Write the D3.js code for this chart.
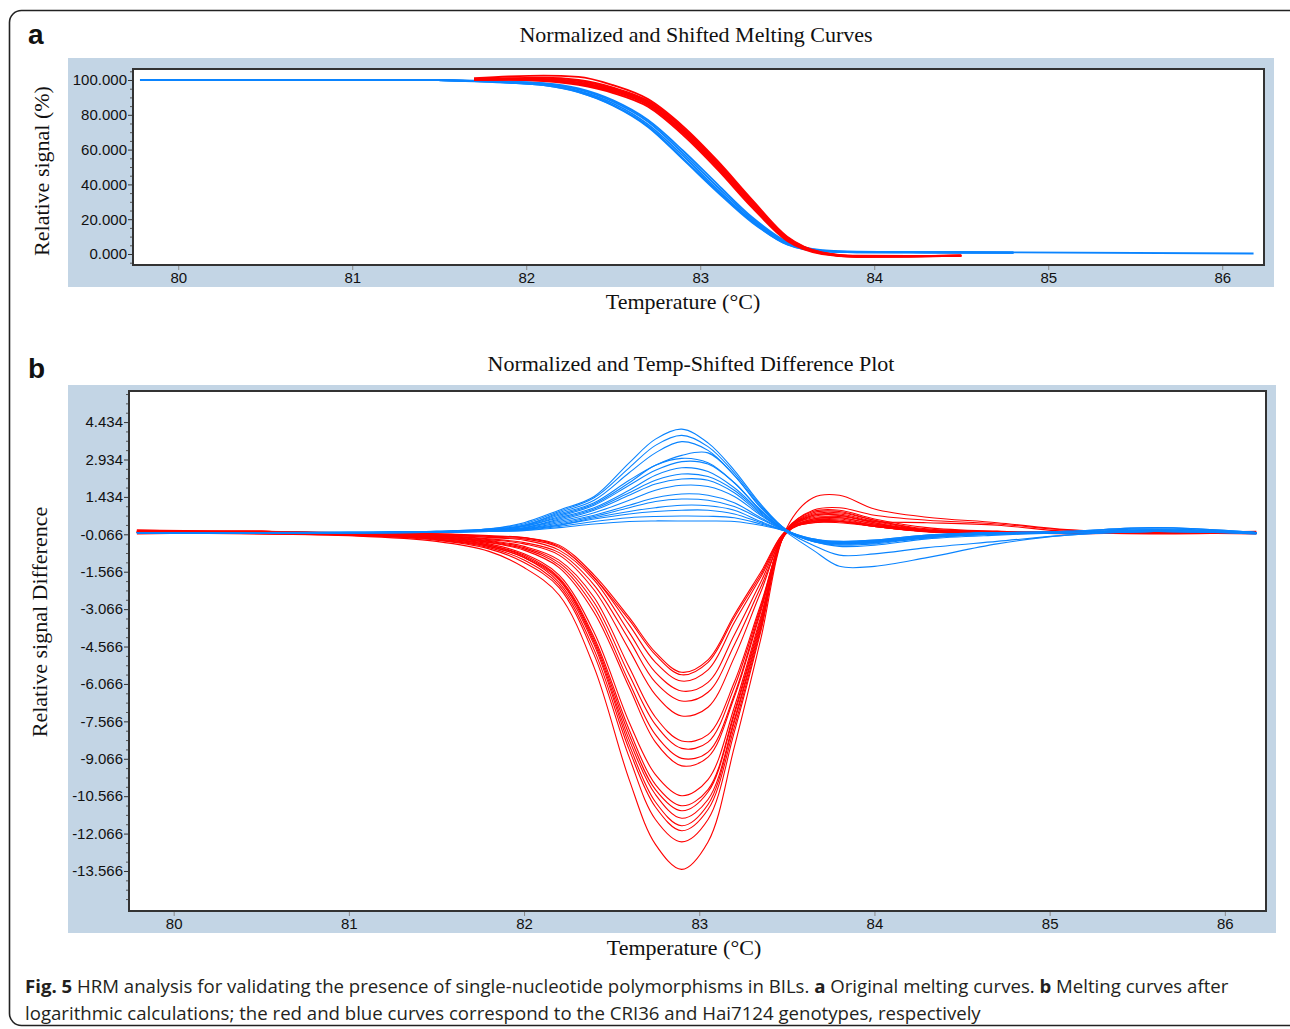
<!DOCTYPE html>
<html>
<head>
<meta charset="utf-8">
<script src="https://cdn.jsdelivr.net/npm/d3@7"></script>
<style>
    html, body { margin: 0; padding: 0; background: #fff; }
    svg { display: block; }
    .tick text { font-family: "Liberation Sans", Arial, sans-serif; font-size: 15px; fill: #111; }
</style>
</head>
<body>
<svg id="fig" width="1290" height="1029"></svg>
<script>
// ---- panel a: normalized melting curves (temperature grid + curves, null = no data)
const meltTemps = [79.78, 81.5, 81.7, 81.9, 82.1, 82.3, 82.5, 82.7, 82.9, 83.1, 83.3, 83.5, 83.7, 83.9, 84.2, 84.5, 84.8, 86.18];

const blueMelt = [
    [100, 100, 99.5, 98.9, 97.9, 94.6, 87.5, 76, 58, 38.5, 20, 6.5, 2.0, 1.2, 1.1, 1.0, 0.9, 0.3],
    [null, 100, 99.4, 98.6, 97.3, 93.8, 86.5, 74.5, 56.5, 37, 19, 6, 1.8, 1.1, 1.0, 0.9, 0.8, null],
    [null, 99.8, 99.2, 98.4, 97.0, 93.2, 85.5, 73.5, 55, 36, 18.5, 5.5, 1.6, 1.0, 0.9, 0.8, 0.7, null],
    [null, 100, 99.6, 99.1, 98.2, 95.2, 88.3, 77, 59.5, 40, 21, 7, 2.2, 1.3, 1.1, 1.0, 0.9, null],
    [null, 99.9, 99.3, 98.5, 97.0, 93.0, 85.2, 73, 54.5, 35.5, 18, 5.5, 1.5, 1.0, 0.9, 0.8, 0.8, null],
];

const redMelt = [
    [null, null, 100.3, 100.6, 100.2, 98.6, 94.3, 86.8, 71, 51, 29, 9, 0.5, -1.3, -1.2, -0.9, null, null],
    [null, null, 101, 102, 102.5, 101.8, 97, 89, 73.5, 53.5, 31, 10, 1.0, -1.0, -1.1, -0.8, null, null],
    [null, null, 100.1, 100.3, 99.7, 97.8, 93.2, 85.5, 69.5, 49.5, 27.5, 8, 0.2, -1.5, -1.4, -1.0, null, null],
    [null, null, 100.5, 101.1, 101.3, 100.0, 95.6, 88, 72.5, 52.5, 30, 9.5, 0.8, -1.2, -1.2, -0.9, null, null],
    [null, null, 100.2, 100.4, 100.0, 98.2, 93.8, 86, 70.2, 50.2, 28, 8.5, 0.3, -1.6, -1.5, -1.1, null, null],
    [null, null, 100.4, 100.8, 100.7, 99.3, 95, 87.5, 72, 52, 29.5, 9.2, 0.6, -1.4, -1.3, -0.9, null, null],
    [null, null, 100.0, 100.1, 99.4, 97.2, 92.5, 84.6, 68.5, 48.5, 26.5, 7.5, 0.0, -1.6, -1.5, -1.1, null, null],
];

// ---- panel b: temp-shifted difference plot
const diffTemps = [79.79, 80.5, 81.0, 81.5, 81.8, 82.0, 82.2, 82.4, 82.6, 82.75, 82.9, 83.05, 83.2, 83.35, 83.5, 83.65, 83.8, 84.0, 84.3, 84.7, 85.1, 85.6, 86.18];

const redDiff = [
    [0.05, -0.05, -0.12, -0.35, -0.75, -1.4, -2.5, -5.4, -9.9, -12.5, -13.5, -12.4, -8.6, -4.3, 0.2, 1.4, 1.5, 0.95, 0.62, 0.4, 0.12, 0.0, 0.0],
    [0.1, 0.0, -0.1, -0.3, -0.65, -1.2, -2.2, -4.9, -9.0, -11.5, -12.4, -11.5, -8.0, -4.0, 0.1, 0.9, 1.0, 0.7, 0.5, 0.35, 0.1, 0.0, -0.05],
    [0.0, 0.05, -0.08, -0.28, -0.6, -1.1, -2.1, -4.7, -8.7, -11.0, -11.95, -11.1, -7.8, -3.9, 0.15, 0.85, 0.9, 0.55, 0.2, 0.05, 0.0, 0.05, 0.0],
    [-0.05, 0.0, -0.1, -0.25, -0.55, -1.0, -2.0, -4.5, -8.5, -10.8, -11.75, -10.9, -7.6, -3.8, 0.1, 0.8, 0.85, 0.5, 0.15, 0.05, -0.05, 0.0, 0.0],
    [0.05, 0.05, -0.05, -0.25, -0.55, -1.0, -1.9, -4.4, -8.3, -10.5, -11.45, -10.7, -7.5, -3.7, 0.1, 0.75, 0.8, 0.5, 0.1, 0.0, 0.0, 0.0, 0.05],
    [0.0, -0.05, -0.1, -0.22, -0.5, -0.95, -1.85, -4.3, -8.1, -10.3, -11.15, -10.4, -7.3, -3.6, 0.05, 0.7, 0.75, 0.45, 0.1, 0.0, 0.05, 0.0, 0.0],
    [0.1, 0.05, -0.05, -0.2, -0.5, -0.9, -1.8, -4.2, -7.9, -10.1, -10.95, -10.3, -7.2, -3.5, 0.1, 0.7, 0.7, 0.4, 0.08, 0.0, 0.0, 0.0, 0.0],
    [0.0, 0.0, -0.08, -0.2, -0.45, -0.85, -1.7, -4.0, -7.6, -9.7, -10.55, -9.9, -7.0, -3.4, 0.05, 0.65, 0.7, 0.4, 0.05, -0.05, 0.0, 0.05, 0.0],
    [0.05, 0.0, -0.05, -0.18, -0.4, -0.7, -1.4, -3.2, -6.2, -8.4, -9.35, -9.0, -6.6, -3.2, 0.1, 0.6, 0.65, 0.45, 0.4, 0.3, 0.05, 0.0, 0.0],
    [0.0, 0.05, -0.05, -0.15, -0.38, -0.65, -1.3, -3.0, -6.0, -8.1, -9.05, -8.8, -6.5, -3.1, 0.05, 0.55, 0.6, 0.35, 0.1, 0.0, 0.0, -0.05, 0.0],
    [0.05, 0.0, -0.05, -0.15, -0.35, -0.6, -1.2, -2.8, -5.7, -7.7, -8.65, -8.4, -6.2, -3.0, 0.05, 0.55, 0.6, 0.35, 0.08, 0.0, 0.0, 0.0, 0.0],
    [0.0, 0.0, -0.05, -0.12, -0.32, -0.55, -1.1, -2.6, -5.4, -7.4, -8.35, -8.1, -6.0, -2.9, 0.0, 0.5, 0.55, 0.3, 0.05, 0.0, 0.05, 0.0, 0.0],
    [0.05, 0.05, -0.03, -0.1, -0.28, -0.45, -0.9, -2.3, -4.7, -6.5, -7.35, -7.0, -5.0, -2.4, 0.05, 0.5, 0.5, 0.3, 0.05, 0.0, 0.0, 0.0, 0.0],
    [0.0, 0.0, -0.03, -0.1, -0.25, -0.4, -0.8, -2.1, -4.3, -6.0, -6.75, -6.4, -4.5, -2.2, 0.0, 0.45, 0.45, 0.25, 0.05, 0.0, 0.0, 0.0, 0.0],
    [0.05, 0.0, -0.02, -0.08, -0.2, -0.3, -0.7, -1.9, -4.0, -5.6, -6.35, -6.0, -4.1, -2.0, 0.05, 0.45, 0.45, 0.25, 0.03, 0.0, 0.0, 0.0, 0.0],
    [0.0, 0.05, 0.0, -0.07, -0.18, -0.25, -0.6, -1.8, -3.7, -5.2, -5.95, -5.5, -3.6, -1.8, 0.05, 0.45, 0.45, 0.25, 0.05, 0.0, 0.0, 0.0, 0.0],
    [0.05, 0.0, 0.0, -0.05, -0.15, -0.2, -0.55, -1.8, -3.5, -4.9, -5.7, -5.2, -3.4, -1.7, 0.1, 0.4, 0.45, 0.3, 0.1, 0.05, 0.0, 0.0, 0.0],
    [0.0, 0.0, 0.0, -0.05, -0.12, -0.2, -0.5, -1.7, -3.4, -4.8, -5.6, -5.1, -3.3, -1.6, 0.1, 0.4, 0.4, 0.25, 0.05, 0.0, 0.0, 0.0, 0.0],
];

const blueDiff = [
    [0.0, 0.0, 0.02, 0.05, 0.15, 0.4, 0.9, 1.45, 2.8, 3.75, 4.15, 3.6, 2.5, 1.15, 0.1, -0.35, -0.5, -0.45, -0.2, -0.05, 0.0, 0.1, -0.05],
    [0.0, -0.02, 0.0, 0.05, 0.15, 0.35, 0.85, 1.4, 2.6, 3.5, 3.9, 3.45, 2.4, 1.1, 0.1, -0.3, -0.45, -0.4, -0.2, -0.05, 0.05, 0.15, 0.0],
    [0.0, 0.0, 0.02, 0.05, 0.12, 0.3, 0.8, 1.3, 2.4, 3.2, 3.65, 3.3, 2.3, 1.05, 0.1, -0.3, -0.4, -0.35, -0.15, 0.0, 0.05, 0.2, 0.0],
    [0.0, 0.0, 0.0, 0.04, 0.12, 0.3, 0.75, 1.2, 2.1, 2.7, 3.1, 3.2, 2.3, 1.0, 0.1, -0.25, -0.4, -0.35, -0.15, 0.0, 0.0, 0.1, 0.0],
    [0.0, 0.0, 0.0, 0.04, 0.1, 0.28, 0.7, 1.15, 2.0, 2.7, 2.98, 2.8, 2.0, 0.9, 0.05, -0.3, -0.45, -0.4, -0.2, -0.05, 0.0, 0.05, 0.0],
    [0.0, 0.0, 0.0, 0.03, 0.1, 0.25, 0.65, 1.1, 1.9, 2.5, 2.85, 2.75, 2.0, 0.9, 0.05, -0.35, -0.55, -0.5, -0.25, -0.1, 0.0, 0.1, 0.0],
    [0.0, 0.0, 0.0, 0.03, 0.1, 0.25, 0.6, 1.0, 1.7, 2.3, 2.6, 2.45, 1.8, 0.85, 0.05, -0.5, -0.9, -0.85, -0.6, -0.35, -0.1, 0.05, 0.0],
    [0.0, 0.0, 0.0, 0.03, 0.1, 0.2, 0.55, 0.95, 1.6, 2.1, 2.35, 2.25, 1.7, 0.8, 0.0, -0.7, -1.35, -1.35, -1.0, -0.45, -0.1, 0.05, -0.05],
    [0.0, 0.0, 0.0, 0.02, 0.1, 0.2, 0.5, 0.9, 1.5, 1.95, 2.15, 2.1, 1.6, 0.75, 0.05, -0.3, -0.4, -0.35, -0.15, 0.0, 0.05, 0.2, 0.0],
    [0.0, 0.0, 0.0, 0.02, 0.08, 0.18, 0.45, 0.8, 1.3, 1.7, 1.9, 1.85, 1.45, 0.7, 0.05, -0.3, -0.4, -0.35, -0.15, 0.0, 0.0, 0.1, 0.0],
    [0.0, 0.0, 0.0, 0.02, 0.08, 0.15, 0.4, 0.7, 1.1, 1.4, 1.55, 1.5, 1.2, 0.6, 0.05, -0.35, -0.45, -0.4, -0.2, -0.05, 0.0, 0.1, 0.0],
    [0.0, 0.0, 0.0, 0.02, 0.08, 0.15, 0.35, 0.65, 1.0, 1.25, 1.35, 1.3, 1.05, 0.55, 0.05, -0.3, -0.4, -0.35, -0.15, 0.0, 0.0, 0.05, 0.0],
    [0.0, 0.0, 0.0, 0.02, 0.06, 0.12, 0.3, 0.6, 0.85, 1.0, 1.1, 1.08, 0.9, 0.45, 0.05, -0.25, -0.35, -0.3, -0.1, 0.0, 0.0, 0.1, 0.0],
    [0.0, 0.0, 0.0, 0.02, 0.06, 0.12, 0.3, 0.55, 0.75, 0.85, 0.9, 0.9, 0.75, 0.4, 0.05, -0.3, -0.4, -0.35, -0.15, 0.0, 0.0, 0.05, 0.0],
    [0.0, 0.0, 0.0, 0.02, 0.05, 0.1, 0.25, 0.45, 0.6, 0.65, 0.67, 0.66, 0.6, 0.35, 0.05, -0.3, -0.4, -0.35, -0.15, 0.0, 0.0, 0.05, 0.0],
    [0.0, 0.0, 0.0, 0.02, 0.05, 0.08, 0.2, 0.35, 0.45, 0.47, 0.47, 0.47, 0.45, 0.3, 0.05, -0.3, -0.35, -0.3, -0.1, 0.0, 0.0, 0.05, 0.0],
];

// ---- axis ticks
const tempTicks = [80, 81, 82, 83, 84, 85, 86];
const meltTicks = [0, 20, 40, 60, 80, 100];
const diffTicks = [4.434, 2.934, 1.434, -0.066, -1.566, -3.066, -4.566, -6.066, -7.566, -9.066, -10.566, -12.066, -13.566];

const RED = "#ff0000";
const BLUE = "#0a84ff";
const PANEL = "#c3d5e5";
const serif = '"Liberation Serif", "Times New Roman", serif';
const sans = '"Liberation Sans", Arial, sans-serif';

const svg = d3.select("#fig");

// outer rounded frame
svg.append("rect")
    .attr("x", 9.5).attr("y", 10.5)
    .attr("width", 1300).attr("height", 1015)
    .attr("rx", 12)
    .attr("fill", "none")
    .attr("stroke", "#222")
    .attr("stroke-width", 1.6);

// plain hyphen minus, as in the original software
const fmt3 = (d) => d.toFixed(3);

function drawPanel(cfg) {
    const { bg, plot, x, y, letter, title, yLabel, xLabel, minorTicks, yTicks, lineWidth } = cfg;

    svg.append("rect")
        .attr("x", bg.x).attr("y", bg.y)
        .attr("width", bg.w).attr("height", bg.h)
        .attr("fill", PANEL);

    svg.append("rect")
        .attr("x", plot.x0).attr("y", plot.y0)
        .attr("width", plot.x1 - plot.x0).attr("height", plot.y1 - plot.y0)
        .attr("fill", "#fff");

    svg.append("text")
        .attr("x", 28).attr("y", letter.y)
        .attr("font-family", sans)
        .attr("font-weight", "bold")
        .attr("font-size", 28)
        .attr("fill", "#111")
        .text(letter.text);

    svg.append("text")
        .attr("x", title.x).attr("y", title.y)
        .attr("text-anchor", "middle")
        .attr("font-family", serif)
        .attr("font-size", 22)
        .attr("fill", "#111")
        .text(title.text);

    // clip for curves
    const clipId = "clip-" + letter.text;
    svg.append("clipPath").attr("id", clipId)
        .append("rect")
        .attr("x", plot.x0).attr("y", plot.y0)
        .attr("width", plot.x1 - plot.x0).attr("height", plot.y1 - plot.y0);

    const g = svg.append("g").attr("clip-path", `url(#${clipId})`);
    const line = d3.line()
        .defined((d) => d[1] !== null)
        .x((d) => x(d[0]))
        .y((d) => y(d[1]))
        .curve(cfg.curve);

    cfg.series.forEach((s) => {
        g.selectAll(null)
            .data(s.curves)
            .enter()
            .append("path")
            .attr("d", (vals) => line(vals.map((v, i) => [s.temps[i], v])))
            .attr("fill", "none")
            .attr("stroke", s.color)
            .attr("stroke-width", lineWidth);
    });

    // minor y ticks
    svg.append("g")
        .attr("transform", `translate(${plot.x0},0)`)
        .call(d3.axisLeft(y).tickValues(minorTicks).tickSize(3).tickFormat(""))
        .call((ax) => ax.select(".domain").remove())
        .call((ax) => ax.selectAll("line").attr("stroke", "#555"));

    // major y ticks
    svg.append("g")
        .attr("transform", `translate(${plot.x0},0)`)
        .call(d3.axisLeft(y).tickValues(yTicks).tickSize(5).tickPadding(1).tickFormat(fmt3))
        .call((ax) => ax.select(".domain").remove())
        .call((ax) => ax.selectAll("line").attr("stroke", "#333"));

    // x ticks
    svg.append("g")
        .attr("transform", `translate(0,${plot.y1})`)
        .call(d3.axisBottom(x).tickValues(tempTicks).tickSize(5).tickPadding(2).tickFormat(d3.format("d")))
        .call((ax) => ax.select(".domain").remove())
        .call((ax) => ax.selectAll("line").attr("stroke", "#888"));

    // plot frame
    svg.append("rect")
        .attr("x", plot.x0).attr("y", plot.y0)
        .attr("width", plot.x1 - plot.x0).attr("height", plot.y1 - plot.y0)
        .attr("fill", "none")
        .attr("stroke", "#333")
        .attr("stroke-width", 2);

    svg.append("text")
        .attr("x", xLabel.x).attr("y", xLabel.y)
        .attr("text-anchor", "middle")
        .attr("font-family", serif)
        .attr("font-size", 22)
        .attr("fill", "#111")
        .text("Temperature (°C)");

    svg.append("text")
        .attr("transform", `translate(${yLabel.x},${yLabel.y}) rotate(-90)`)
        .attr("text-anchor", "middle")
        .attr("font-family", serif)
        .attr("font-size", 22)
        .attr("fill", "#111")
        .text(yLabel.text);
}

// panel a
const plotA = { x0: 133, x1: 1264, y0: 69, y1: 265 };
const xA = d3.scaleLinear().domain([79.74, 86.24]).range([plotA.x0, plotA.x1]);
const yA = d3.scaleLinear().domain([-6.32, 106.32]).range([plotA.y1, plotA.y0]);

drawPanel({
    bg: { x: 68, y: 58, w: 1206, h: 229 },
    plot: plotA, x: xA, y: yA,
    letter: { text: "a", y: 44 },
    title: { text: "Normalized and Shifted Melting Curves", x: 696, y: 42 },
    yLabel: { text: "Relative signal (%)", x: 49, y: 171 },
    xLabel: { x: 683, y: 309 },
    yTicks: meltTicks,
    minorTicks: d3.range(-5, 106, 5).filter((v) => v % 20 !== 0),
    lineWidth: 1.8,
    curve: d3.curveMonotoneX,
    series: [
        { temps: meltTemps, curves: blueMelt, color: BLUE },
        { temps: meltTemps, curves: redMelt, color: RED },
    ],
});

// panel b
const plotB = { x0: 129, x1: 1266, y0: 391, y1: 911 };
const xB = d3.scaleLinear().domain([79.745, 86.235]).range([plotB.x0, plotB.x1]);
const yB = d3.scaleLinear().domain([-15.17, 5.68]).range([plotB.y1, plotB.y0]);

drawPanel({
    bg: { x: 68, y: 385, w: 1208, h: 548 },
    plot: plotB, x: xB, y: yB,
    letter: { text: "b", y: 378 },
    title: { text: "Normalized and Temp-Shifted Difference Plot", x: 691, y: 371 },
    yLabel: { text: "Relative signal Difference", x: 47, y: 622 },
    xLabel: { x: 684, y: 955 },
    yTicks: diffTicks,
    minorTicks: d3.range(-40, 16).map((k) => -0.066 + k * 0.375).filter((v) => v > -15.1 && v < 5.6 && Math.abs(((v + 0.066) / 1.5) % 1) > 0.01),
    lineWidth: 1.1,
    curve: d3.curveCatmullRom.alpha(0.5),
    series: [
        { temps: diffTemps, curves: redDiff, color: RED },
        { temps: diffTemps, curves: blueDiff, color: BLUE },
    ],
});

// caption
const capFont = '"Open Sans", "Noto Sans", sans-serif';
const cap1 = svg.append("text")
    .attr("x", 25).attr("y", 993)
    .attr("font-family", capFont)
    .attr("font-size", 19)
    .attr("fill", "#231f20");
cap1.append("tspan").attr("font-weight", "bold").text("Fig. 5");
cap1.append("tspan").text(" HRM analysis for validating the presence of single-nucleotide polymorphisms in BILs. ");
cap1.append("tspan").attr("font-weight", "bold").text("a");
cap1.append("tspan").text(" Original melting curves. ");
cap1.append("tspan").attr("font-weight", "bold").text("b");
cap1.append("tspan").text(" Melting curves after");

const cap2 = svg.append("text")
    .attr("x", 25).attr("y", 1020)
    .attr("font-family", capFont)
    .attr("font-size", 19)
    .attr("fill", "#231f20")
    .text("logarithmic calculations; the red and blue curves correspond to the CRI36 and Hai7124 genotypes, respectively");

// fit caption to the measured line width of the original
const w1 = cap1.node().getComputedTextLength();
const fs = 19 * 1204 / w1;
cap1.attr("font-size", fs);
cap2.attr("font-size", fs);
</script>
</body>
</html>
